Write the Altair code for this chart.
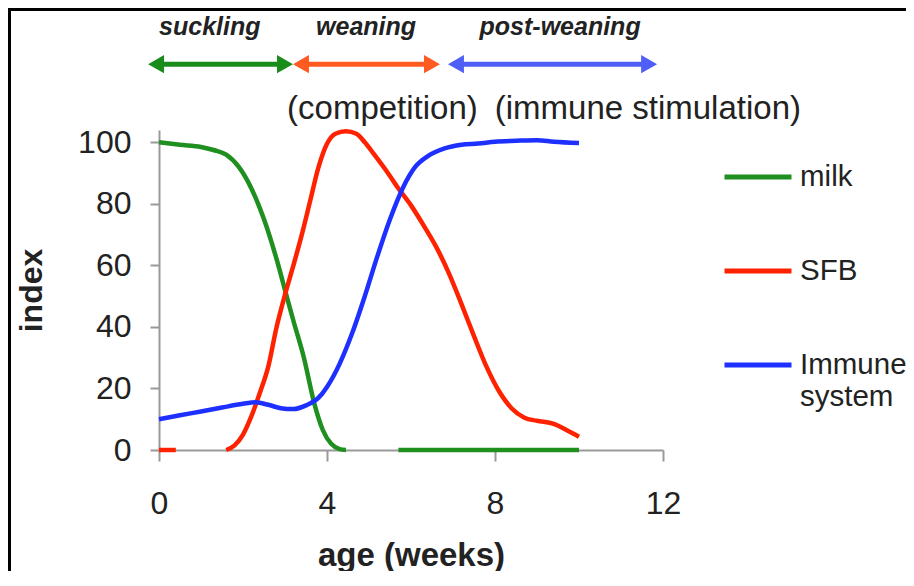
import altair as alt
import pandas as pd

FONT = "Liberation Sans"
TXT = "#222222"
AX = "#999999"

# ---- series data (age in weeks, index) ----
milk_x1 = [0.0, 0.5, 1.0, 1.3, 1.6, 1.9, 2.2, 2.5, 2.8, 3.0, 3.2, 3.45, 3.7, 3.9, 4.1, 4.3, 4.45]
milk_y1 = [100, 99.2, 98.5, 97.5, 96, 92, 85, 75, 62, 52, 42, 30, 15, 6.5, 2, 0.3, 0]
milk_x2 = [5.7, 10.0]
milk_y2 = [0, 0]

sfb_x1 = [0.0, 0.4]
sfb_y1 = [0, 0]
sfb_x2 = [1.6, 1.8, 2.0, 2.2, 2.4, 2.6, 2.8, 3.0, 3.2, 3.4, 3.6, 3.8, 4.0, 4.2, 4.45,
          4.7, 4.9, 5.1, 5.4, 5.7, 6.0, 6.3, 6.6, 6.9, 7.2, 7.5, 7.8, 8.1, 8.4, 8.7,
          9.0, 9.4, 9.7, 10.0]
sfb_y2 = [0, 1.5, 5, 11, 18.5, 27, 40, 50.5, 60, 70, 81, 92, 99.5, 102.8, 103.6,
          102.8, 100, 96.5, 91, 85, 79.5, 73, 66, 57.5, 47.5, 37, 27, 19, 13.5, 10.5,
          9.5, 8.5, 6.5, 4.3]

imm_x = [0.0, 0.5, 1.0, 1.5, 2.0, 2.3, 2.6, 2.9, 3.2, 3.5, 3.8, 4.0, 4.3, 4.6, 4.9,
         5.2, 5.5, 5.8, 6.1, 6.4, 6.8, 7.2, 7.6, 8.0, 8.5, 9.0, 9.4, 10.0]
imm_y = [10, 11.3, 12.5, 13.8, 15, 15.5, 14.7, 13.6, 13.3, 14.5, 17, 20.5, 28, 38, 50,
         63, 75, 85, 92, 95.5, 98, 99.2, 99.6, 100.2, 100.5, 100.7, 100.2, 99.8]

series_names = ["milk", "SFB", "Immune system"]
series_colors = ["#1f8f1f", "#ff2200", "#1e30ff"]

x_ticks = [0, 4, 8, 12]
y_ticks = [0, 20, 40, 60, 80, 100]

# ---- phase arrows above the plot ----
phase_labels = ["suckling", "weaning", "post-weaning"]
phase_start = [-0.26, 3.19, 6.88]
phase_end = [3.19, 6.69, 11.86]
phase_colors = ["#1a8c1a", "#ff5a1f", "#4f5ff5"]
phase_label_x = [1.21, 4.93, 9.55]
arrow_level = 125.4
label_level = 137.5

note_texts = ["(competition)", "(immune stimulation)"]
note_x = [5.32, 11.64]
note_level = 110.8

# ---- tables ----
rows = []
def add(name, seg, xs, ys):
    for a, b in zip(xs, ys):
        rows.append({"series": name, "seg": seg, "x": a, "y": b})
add("milk", "milk1", milk_x1, milk_y1)
add("milk", "milk2", milk_x2, milk_y2)
add("SFB", "sfb1", sfb_x1, sfb_y1)
add("SFB", "sfb2", sfb_x2, sfb_y2)
add("Immune system", "imm", imm_x, imm_y)
df = pd.DataFrame(rows)

adf = pd.DataFrame({
    "label": phase_labels, "start": phase_start, "end": phase_end,
    "col": phase_colors, "lx": phase_label_x,
    "level": [arrow_level] * 3, "tlevel": [label_level] * 3,
})
ndf = pd.DataFrame({"text": note_texts, "nx": note_x, "ny": [note_level] * 2})

xs = alt.Scale(domain=[0, 12], nice=False, zero=False)
ys = alt.Scale(domain=[0, 104], nice=False)
XT = "age (weeks)"
YT = "index"

lines = alt.Chart(df).mark_line(interpolate="monotone", strokeWidth=4.5).encode(
    x=alt.X("x:Q", scale=xs, title=XT, axis=alt.Axis(
        values=x_ticks, labelFontSize=32, labelFont=FONT, labelColor=TXT,
        labelPadding=27, labelFlush=False, tickSize=11, tickColor=AX, tickWidth=2,
        domainColor=AX, domainWidth=2, grid=False,
        titleFontSize=33, titleFont=FONT, titleFontWeight="bold", titleColor=TXT,
        titleY=105, titleBaseline="middle")),
    y=alt.Y("y:Q", scale=ys, title=YT, axis=alt.Axis(
        values=y_ticks, labelFontSize=32, labelFont=FONT, labelColor=TXT,
        labelPadding=19, tickSize=9, tickColor=AX, tickWidth=2,
        domainColor=AX, domainWidth=2, grid=False,
        titleFontSize=32, titleFont=FONT, titleFontWeight="bold", titleColor=TXT,
        titleAngle=-90, titleX=-128, titleY=160, titleBaseline="middle", titleAlign="center")),
    color=alt.Color("series:N", sort=series_names,
                    scale=alt.Scale(domain=series_names, range=series_colors),
                    legend=alt.Legend(
                        title=None, orient="none", legendX=563, legendY=11, padding=0,
                        symbolType="stroke", symbolSize=4489, symbolStrokeWidth=5,
                        labelFontSize=29.5, labelFont=FONT, labelColor=TXT, labelLimit=400,
                        labelOffset=6, rowPadding=43,
                        labelExpr="datum.label == 'Immune system' ? ['Immune', 'system'] : datum.label")),
    detail="seg:N",
)

shaft = alt.Chart(adf).mark_rule(strokeWidth=5, xOffset=9, x2Offset=-9).encode(
    x=alt.X("start:Q", scale=xs, title=XT), x2="end:Q",
    y=alt.Y("level:Q", scale=ys, title=YT),
    stroke=alt.Stroke("col:N", scale=None),
)
head_l = alt.Chart(adf).mark_point(shape="triangle-left", filled=True, opacity=1,
                                   size=340, strokeWidth=0, xOffset=8).encode(
    x=alt.X("start:Q", scale=xs, title=XT), y=alt.Y("level:Q", scale=ys, title=YT),
    fill=alt.Fill("col:N", scale=None),
)
head_r = alt.Chart(adf).mark_point(shape="triangle-right", filled=True, opacity=1,
                                   size=340, strokeWidth=0, xOffset=-8).encode(
    x=alt.X("end:Q", scale=xs, title=XT), y=alt.Y("level:Q", scale=ys, title=YT),
    fill=alt.Fill("col:N", scale=None),
)
phase_text = alt.Chart(adf).mark_text(fontSize=25, font=FONT, fontStyle="italic",
                                      fontWeight="bold", color=TXT).encode(
    x=alt.X("lx:Q", scale=xs, title=XT), y=alt.Y("tlevel:Q", scale=ys, title=YT),
    text="label:N",
)
notes = alt.Chart(ndf).mark_text(fontSize=33, font=FONT, color=TXT).encode(
    x=alt.X("nx:Q", scale=xs, title=XT), y=alt.Y("ny:Q", scale=ys, title=YT),
    text="text:N",
)

frame_top = alt.Chart(adf).mark_rule(color="black", strokeWidth=3).encode(
    x=alt.value(-151), x2=alt.value(760), y=alt.value(-120.5))
frame_left = alt.Chart(adf).mark_rule(color="black", strokeWidth=3).encode(
    x=alt.value(-149.5), y=alt.value(-122), y2=alt.value(450))

chart = alt.layer(frame_top, frame_left, shaft, head_l, head_r, phase_text, notes, lines).properties(
    width=504, height=320,
    padding={"left": 151, "top": 122, "right": 243, "bottom": 121},
    autosize=alt.AutoSizeParams(type="none"),
    background="white",
).configure_view(stroke=None)

chart.save("out.html", embed_options={"renderer": "svg", "actions": False})
